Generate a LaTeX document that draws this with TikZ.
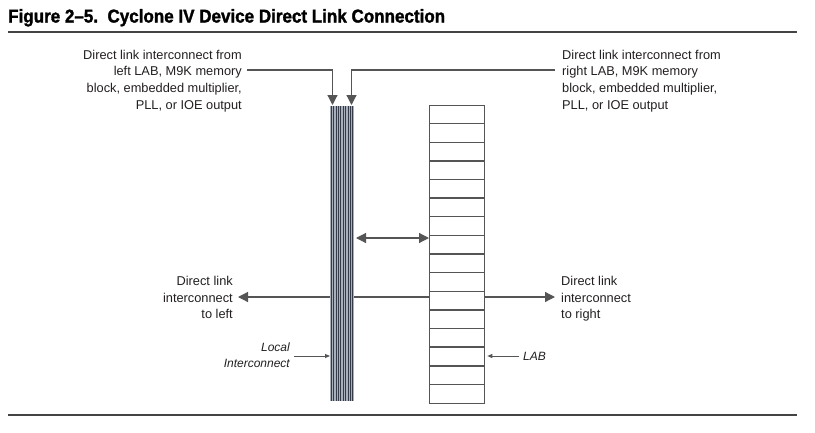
\documentclass[tikz,border=0pt]{standalone}
\usepackage{fontspec}
\setmainfont{Liberation Sans}
\newfontfamily\titlefont[FakeStretch=0.92,FakeBold=1.6]{Liberation Sans}
\usetikzlibrary{arrows.meta}
\definecolor{txt}{HTML}{231F20}
\definecolor{ln}{HTML}{555555}
\definecolor{rulec}{HTML}{444444}
\definecolor{stripebg}{HTML}{A9AEBB}
\definecolor{stripedk}{HTML}{353A48}
\tikzset{
  lbl/.style={inner sep=0pt, text=txt, font=\fontsize{12.8}{16.7}\selectfont},
  ital/.style={inner sep=0pt, text=txt, font=\fontsize{12}{16}\selectfont\itshape},
  conn/.style={draw=ln, line width=1.2pt},
  bigtip/.style={-{Triangle[length=10pt,width=10pt]}},
  smalltip/.style={-{Triangle[length=5pt,width=4pt]}},
  rulel/.style={draw=rulec, line width=2pt}
}
\begin{document}
\begin{tikzpicture}[x=1pt,y=-1pt]
\useasboundingbox (0,0) rectangle (815,432);
% title
\node[anchor=base west, inner sep=0pt, text=black, font=\titlefont\bfseries\fontsize{18.5}{22}\selectfont] (title) at (8,22.5) {Figure 2–5.\ \ Cyclone IV Device Direct Link Connection};
\coordinate (r1a) at (8,32);
\coordinate (r1b) at (797,32);
\draw[rulel] (r1a) -- (r1b);
\coordinate (r2a) at (8,415);
\coordinate (r2b) at (797,415);
\draw[rulel] (r2a) -- (r2b);

% LAB column
\node[draw=ln, line width=1.3pt, minimum width=55pt, minimum height=298pt, inner sep=0pt, anchor=north west] (lab) at (429,105) {};
\foreach \i in {1,...,15}{
  \draw[ln, line width=1.4pt] (429,{105+\i*18.63}) -- (484,{105+\i*18.63});
}

% horizontal line through (to left), drawn before interconnect
\coordinate (leftTip) at (238,297);
\draw[conn, bigtip] (lab.west |- 0,297) -- (leftTip);
\coordinate (rightTip) at (555,297);
\draw[conn, bigtip] (lab.east |- 0,297) -- (rightTip);

% interconnect column
\node[fill=stripebg, minimum width=24pt, minimum height=295pt, inner sep=0pt, anchor=north west] (ic) at (330,106) {};
\foreach \k in {0,...,9}{
  \draw[stripedk, line width=0.95pt] ({331.2+\k*2.4},106) -- ({331.2+\k*2.4},401);
}

% double arrow
\coordinate (dA) at (356,238);
\draw[conn, {Triangle[length=10pt,width=10pt]}-{Triangle[length=10pt,width=10pt]}] (dA) -- (lab.west |- dA);

% top texts
\node[lbl, align=right, anchor=north east] (tl) at (242,49.8) {Direct link interconnect from\\left LAB, M9K memory\\block, embedded multiplier,\\PLL, or IOE output};
\node[lbl, align=left, anchor=north west] (tr) at (562,49.8) {Direct link interconnect from\\right LAB, M9K memory\\block, embedded multiplier,\\PLL, or IOE output};
\coordinate (tlA) at (247,70);
\coordinate (trA) at (555,70);
\coordinate (tlB) at (332.5,70);
\coordinate (trB) at (351.5,70);
\draw[conn, bigtip] (tlA) -- (tlB) -- (332.5,105);
\draw[conn, bigtip] (trA) -- (trB) -- (351.5,105);

% side texts
\node[lbl, align=right, anchor=north east] (ll) at (233,276) {Direct link\\interconnect\\to left};
\node[lbl, align=left, anchor=north west] (rl) at (561,276) {Direct link\\interconnect\\to right};

% Local interconnect
\node[ital, align=right, anchor=north east] (loc) at (290,343) {Local\\Interconnect};
\coordinate (locA) at (294,356);
\draw[conn, line width=0.9pt, smalltip] (locA) -- (ic.west |- locA);
\node[ital, anchor=base west] (labt) at (523,360) {LAB};
\coordinate (labA) at (519,356);
\draw[conn, line width=0.9pt, smalltip] (labA) -- ([xshift=2pt]lab.east |- labA);
\end{tikzpicture}
\end{document}
